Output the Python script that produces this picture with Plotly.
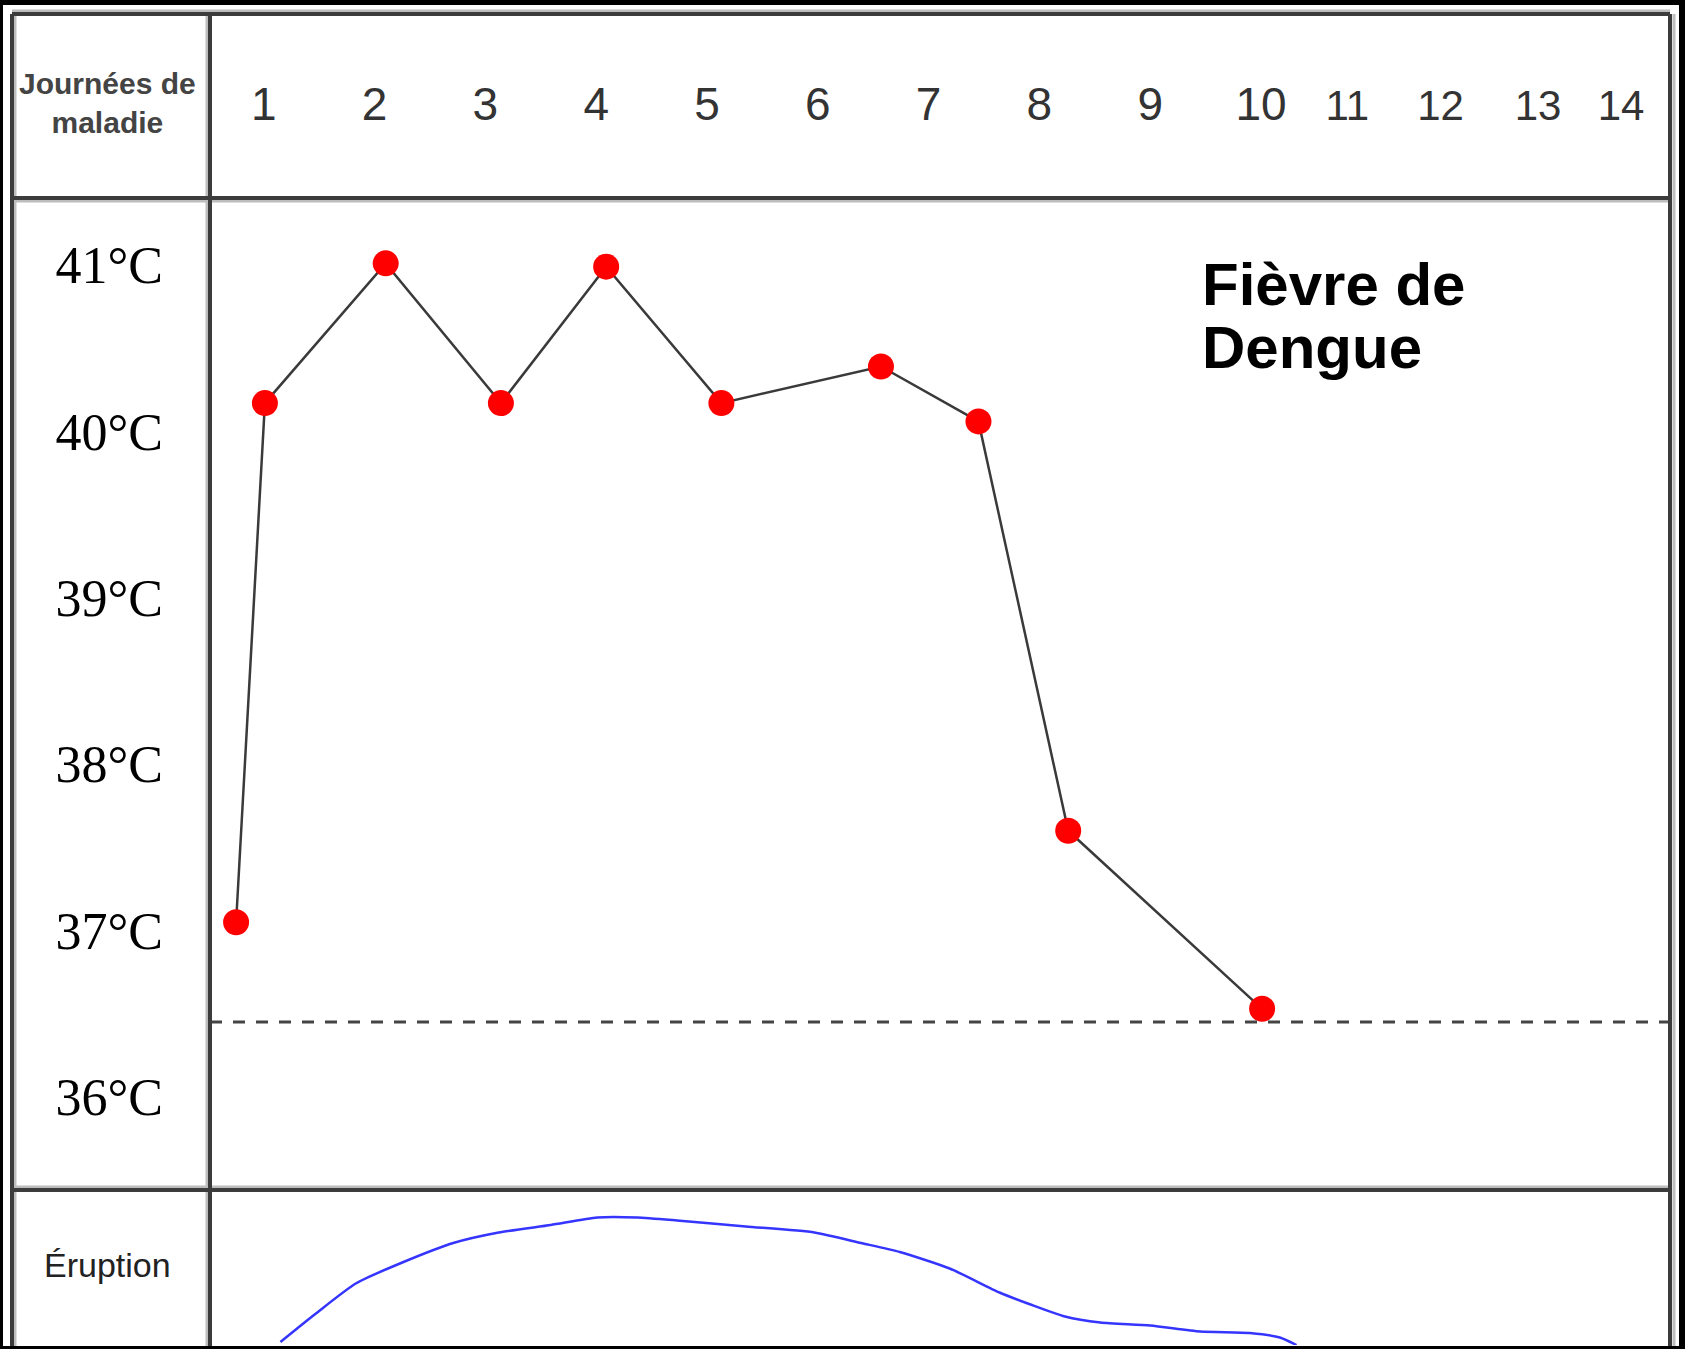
import plotly.graph_objects as go

# ---------------- data ----------------
day_labels = ["1", "2", "3", "4", "5", "6", "7", "8", "9", "10", "11", "12", "13", "14"]
day_label_pos = [1, 2, 3, 4, 5, 6, 7, 8, 9, 10, 10.78, 11.62, 12.5, 13.25]

temp_days = [0.75, 1.01, 2.10, 3.14, 4.09, 5.13, 6.57, 7.45, 8.26, 10.01]
temp_values = [37.05, 40.17, 41.01, 40.17, 40.99, 40.17, 40.39, 40.06, 37.60, 36.53]

temp_ticks = [36, 37, 38, 39, 40, 41]
temp_tick_labels = ["36°C", "37°C", "38°C", "39°C", "40°C", "41°C"]

normal_temp = 36.45

rash_days = [1.15, 1.47, 1.83, 2.25, 2.71, 3.12, 3.59, 4.01, 4.37, 4.73, 5.35, 5.97,
             6.39, 6.74, 7.19, 7.64, 7.92, 8.23, 8.55, 9.0, 9.45, 9.90, 10.17, 10.32]
rash_intensity = [0.02, 0.21, 0.41, 0.55, 0.68, 0.75, 0.80, 0.85, 0.85, 0.83, 0.79, 0.75,
                  0.68, 0.62, 0.51, 0.35, 0.27, 0.19, 0.15, 0.13, 0.09, 0.08, 0.05, 0.0]

header_label = "Journées de<br>maladie"
row_label = "Éruption"
title_lines = ["Fièvre de", "Dengue"]

# ---------------- layout helpers ----------------
W, H = 1685, 1349
ML, MR, MT, MB = 210, 15, 198, 4
PW, PH = W - ML - MR, H - MT - MB


def px(x):
    return (x - ML) / PW


def py(y):
    return (H - MB - y) / PH


split = py(1190)

fig = go.Figure()

fig.add_trace(go.Scatter(
    x=temp_days, y=temp_values, mode="lines+markers",
    line=dict(color="#3a3a3a", width=2.5),
    marker=dict(color="#ff0000", size=26),
    xaxis="x", yaxis="y", hoverinfo="skip"))

fig.add_trace(go.Scatter(
    x=rash_days, y=rash_intensity, mode="lines",
    line=dict(color="#3535ff", width=2.5, shape="spline", smoothing=0.6),
    xaxis="x", yaxis="y2", hoverinfo="skip"))

line_col = "#3c3c3c"
halo_col = "#bdbdbd"
shapes = [
    dict(type="rect", xref="paper", yref="paper", x0=px(3), x1=px(1679), y0=py(5), y1=py(1346),
         fillcolor="white", line=dict(width=0), layer="below"),
    dict(type="line", xref="x domain", yref="y", x0=0, x1=1, y0=normal_temp, y1=normal_temp,
         line=dict(color="#444444", width=3, dash="12px,11px")),
]
# light anti-aliased halos next to the table rules
for (x0, y0, x1, y1) in [(12, 11, 1670, 11), (12, 201, 1670, 201), (12, 1187, 1670, 1187),
                         (15, 14, 15, 1346), (207, 14, 207, 1346), (1674, 14, 1674, 1346)]:
    shapes.append(dict(type="line", xref="paper", yref="paper",
                       x0=px(x0), x1=px(x1), y0=py(y0), y1=py(y1),
                       line=dict(color=halo_col, width=3)))
for (x0, y0, x1, y1) in [(12, 14, 1670, 14), (12, 198, 1670, 198), (12, 1190, 1670, 1190),
                         (12, 14, 12, 1346), (210, 14, 210, 1346), (1670, 14, 1670, 1346)]:
    shapes.append(dict(type="line", xref="paper", yref="paper",
                       x0=px(x0), x1=px(x1), y0=py(y0), y1=py(y1),
                       line=dict(color=line_col, width=4)))

annotations = [
    dict(text="<b>%s</b>" % header_label, xref="paper", yref="paper", x=px(107), y=py(103),
         xanchor="center", yanchor="middle", showarrow=False,
         font=dict(family="Liberation Sans, Arial, sans-serif", size=30, color="#444444")),
    dict(text=row_label, xref="paper", yref="paper", x=px(107), y=py(1265),
         xanchor="center", yanchor="middle", showarrow=False,
         font=dict(family="Liberation Sans, Arial, sans-serif", size=34, color="#222222")),
    dict(text="<b>%s</b>" % title_lines[0], xref="paper", yref="paper", x=px(1200), y=py(284),
         xanchor="left", yanchor="middle", showarrow=False,
         font=dict(family="Liberation Sans, Arial, sans-serif", size=60, color="black")),
    dict(text="<b>%s</b>" % title_lines[1], xref="paper", yref="paper", x=px(1200), y=py(347),
         xanchor="left", yanchor="middle", showarrow=False,
         font=dict(family="Liberation Sans, Arial, sans-serif", size=60, color="black")),
]

tick_text = [t if int(t) <= 10 else '<span style="font-size:42px">%s</span>' % t for t in day_labels]

fig.update_layout(
    width=W, height=H,
    margin=dict(l=ML, r=MR, t=MT, b=MB, autoexpand=False),
    paper_bgcolor="black", plot_bgcolor="white",
    showlegend=False,
    xaxis=dict(range=[(ML - 153) / 110.8, (W - MR - 153) / 110.8], side="top", anchor="y",
               tickmode="array", tickvals=day_label_pos, ticktext=tick_text,
               tickfont=dict(family="Liberation Sans Narrow, Arial Narrow, Liberation Sans, sans-serif",
                             size=46, color="#333333"),
               ticks="", ticklabelstandoff=68,
               showgrid=False, zeroline=False, showline=False),
    yaxis=dict(domain=[split, 1], range=[41 - (1190 - 265) / 166.4, 41 + (265 - 198) / 166.4],
               tickmode="array", tickvals=temp_ticks, ticktext=temp_tick_labels,
               tickfont=dict(family="Liberation Serif, Times New Roman, serif", size=52, color="black"),
               ticks="", ticklabelstandoff=46,
               showgrid=False, zeroline=False, showline=False),
    yaxis2=dict(domain=[0, split], range=[0, (1345 - 1190) / 150], anchor="x",
                showticklabels=False, showgrid=False, zeroline=False, showline=False),
    shapes=shapes,
    annotations=annotations,
)

fig.write_html("out.html", config={"displayModeBar": False},
               post_script="document.body.style.margin='0px';document.body.style.background='black';")
